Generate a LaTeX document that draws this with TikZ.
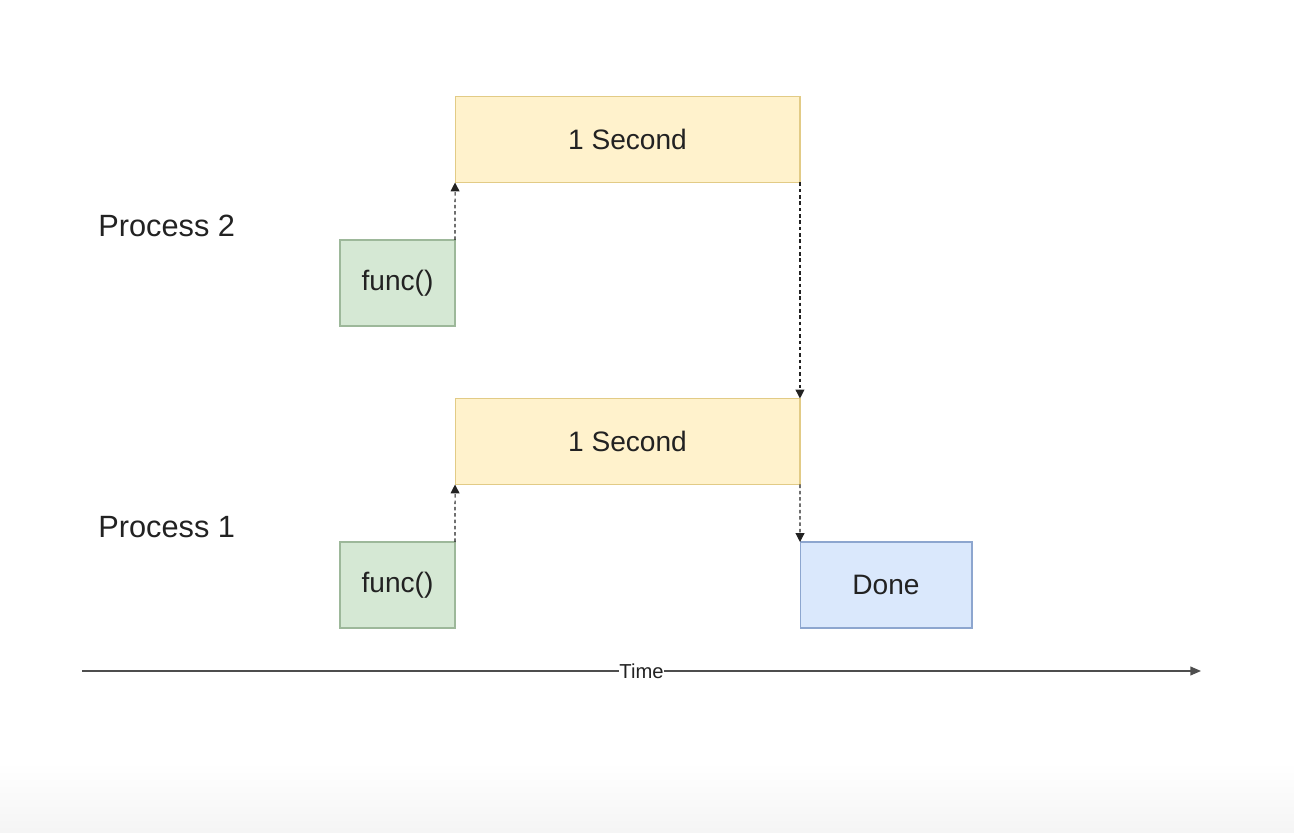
\documentclass[tikz,border=0pt]{standalone}
\usepackage{fontspec}
\setmainfont{Liberation Sans}
\usepackage{tikz}
\usetikzlibrary{arrows.meta}
\definecolor{funcfill}{HTML}{D5E8D4}
\definecolor{funcline}{HTML}{9DB89A}
\definecolor{secfill}{HTML}{FFF2CC}
\definecolor{secline}{HTML}{E2CB86}
\definecolor{donefill}{HTML}{DAE8FC}
\definecolor{doneline}{HTML}{8DA6CF}
\definecolor{ink}{HTML}{222222}

\begin{document}
\begin{tikzpicture}[x=0.02cm,y=0.02cm,
  box/.style={draw,line width=0.6pt,inner sep=0pt,outer sep=0pt,minimum height=1.72cm,text=ink,font=\fontsize{16}{18}\selectfont},
  funcbox/.style={box,fill=funcfill,draw=funcline,minimum width=2.3cm},
  secbox/.style={box,fill=secfill,draw=secline,minimum width=6.9cm},
  donebox/.style={box,fill=donefill,draw=doneline,minimum width=3.44cm},
  proc/.style={anchor=west,inner sep=0pt,text=ink,font=\fontsize{17.5}{20}\selectfont}]
\useasboundingbox (0,0) rectangle (1294,832);
\shade[top color=white,bottom color=black!4] (0,0) rectangle (1294,70);
\node[secbox] (S2) at (627.5,692.5) {1 Second};
\node[funcbox] (F2) at (397.5,549) {func()};
\node[secbox] (S1) at (627.5,390.5) {1 Second};
\node[funcbox] (F1) at (397.5,247) {func()};
\node[donebox] (D) at (886,247) {Done};
\node[proc] (P2) at (98,606) {Process 2};
\node[proc] (P1) at (98,305) {Process 1};
\coordinate (T0) at (82,161);
\coordinate (T1) at (1201,161);
\path[-{Triangle[length=5pt,width=5pt]},line width=0.6pt,dash pattern=on 2pt off 1.6pt,color=ink]
(F2.north east) edge (S2.south west)
(S2.south east) edge (S1.north east)
(F1.north east) edge (S1.south west)
(S1.south east) edge (D.north west);
\draw[-{Triangle[length=6pt,width=5pt]},line width=0.7pt,draw=ink!80]
(T0) -- node[fill=white,inner sep=0.5pt,text=ink,font=\fontsize{11.5}{13}\selectfont] (T) {Time} (T1);
\end{tikzpicture}
\end{document}
